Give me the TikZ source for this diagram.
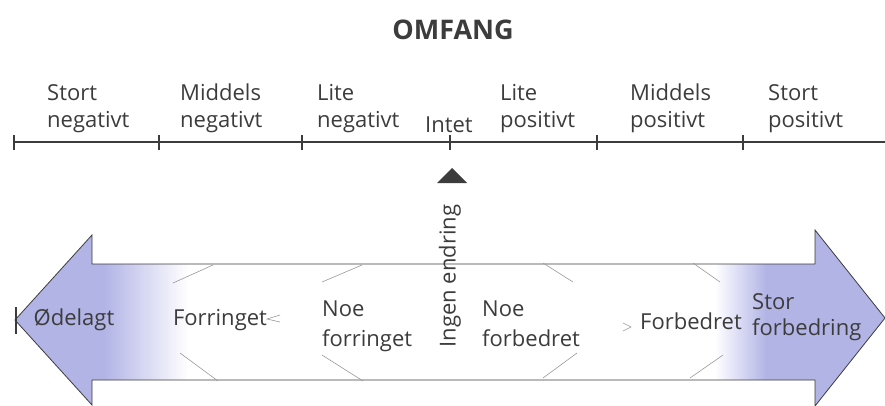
\documentclass[tikz,border=0pt]{standalone}
\usepackage{fontspec}
\setmainfont{Open Sans}
\usetikzlibrary{positioning}
\definecolor{arrowblue}{RGB}{178,180,230}
\definecolor{inkgray}{RGB}{60,60,60}

\tikzset{
  scalelabel/.style={anchor=south west, inner sep=0pt, align=left, text=inkgray,
    font=\fontsize{22}{27}\selectfont},
  effectlabel/.style={inner sep=0pt, align=left, text=inkgray,
    font=\fontsize{22}{30}\selectfont},
  hatch/.style={draw=gray!80, line width=0.6pt},
}

\begin{document}
\begin{tikzpicture}[x=1pt, y=-1pt]
  \useasboundingbox (0,0) rectangle (885,405);

  \node[font=\bfseries\fontsize{27}{30}\selectfont, text=inkgray] (omfang) at (453,30) {OMFANG};

  % scale with ticks
  \coordinate (t0) at (14,142);
  \coordinate (tend) at (885,142);
  \draw[line width=1.4pt, inkgray] (t0) -- (tend);
  \foreach \x/\name in {14/t0, 159/t1, 302/t2, 450/t3, 597/t4, 743/t5} {
    \coordinate (\name) at (\x,142);
    \draw[line width=1.4pt, inkgray] (\x,135) -- (\x,150);
  }

  \node[scalelabel] (sn) at (47,133) {Stort\\negativt};
  \node[scalelabel] (mn) at (180,133) {Middels\\negativt};
  \node[scalelabel] (ln) at (317,133) {Lite\\negativt};
  \node[scalelabel] (in) at (425,133) {Intet};
  \node[scalelabel] (lp) at (500,133) {Lite\\positivt};
  \node[scalelabel] (mp) at (630,133) {Middels\\positivt};
  \node[scalelabel] (sp) at (768,133) {Stort\\positivt};

  % pointer to Intet
  \fill[inkgray] (437,183) -- (452,168) -- (467,183) -- cycle;

  % double arrow
  \coordinate (ltip) at (15,320);
  \coordinate (rtip) at (885,318);
  \path[fill=white] (ltip) -- (92,235) -- (92,264) -- (815,264) -- (815,230) -- (rtip)
    -- (815,406) -- (815,380) -- (92,380) -- (92,405) -- cycle;
  \begin{scope}
    \clip (ltip) -- (92,235) -- (92,264) -- (815,264) -- (815,230) -- (rtip)
      -- (815,406) -- (815,380) -- (92,380) -- (92,405) -- cycle;
    \fill[arrowblue] (0,220) rectangle (105,410);
    \shade[left color=arrowblue, right color=white] (104,220) rectangle (188,410);
    \fill[arrowblue] (765,220) rectangle (890,410);
    \shade[left color=white, right color=arrowblue] (715,220) rectangle (766,410);
  \end{scope}
  \draw[line width=0.8pt, inkgray] (ltip) -- (92,235) -- (92,264) -- (815,264) -- (815,230) -- (rtip)
    -- (815,406) -- (815,380) -- (92,380) -- (92,405) -- cycle;
  \draw[line width=1.2pt, inkgray] (16,307) -- (16,334);

  % faint perspective strokes
  \draw[hatch] (173,283) -- (213,265);
  \draw[hatch] (322,282) -- (362,265);
  \draw[hatch] (180,353) -- (218,381);
  \draw[hatch] (322,355) -- (363,381);
  \draw[hatch] (543,263) -- (573,282);
  \draw[hatch] (693,263) -- (720,282);
  \draw[hatch] (543,378) -- (577,353);
  \draw[hatch] (690,378) -- (723,355);
  \draw[hatch] (280,315) -- (267,319) -- (280,322);
  \draw[hatch] (623,323) -- (631,327) -- (623,331);

  \node[effectlabel] (odelagt) at (74,320) {Ødelagt};
  \node[effectlabel] (forringet) at (220,320) {Forringet};
  \node[effectlabel, anchor=west] (noeforr) at (322,326) {Noe\\forringet};
  \node[effectlabel, rotate=90] (ingen) at (450,276) {Ingen endring};
  \node[effectlabel, anchor=west] (noeforb) at (482,324) {Noe\\forbedret};
  \node[effectlabel] (forbedret) at (691,321) {Forbedret};
  \node[effectlabel, anchor=west, font=\fontsize{22}{26}\selectfont] (storforb) at (752,317) {Stor\\forbedring};
\end{tikzpicture}
\end{document}
